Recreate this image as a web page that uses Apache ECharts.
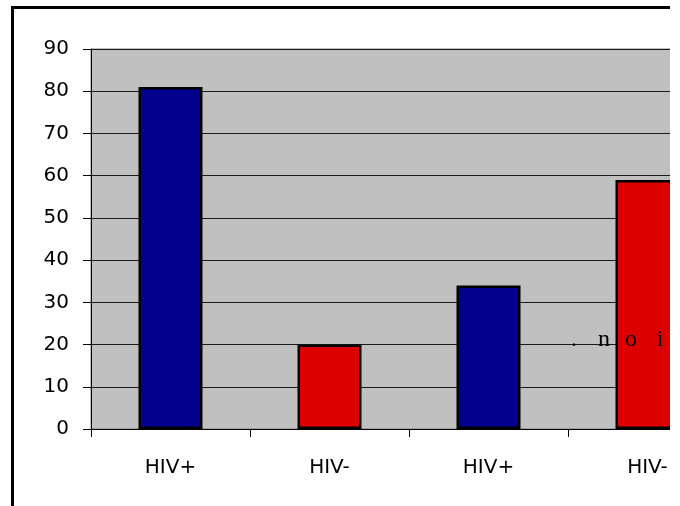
<!DOCTYPE html>
<html>
<head>
<meta charset="utf-8">
<script src="https://cdn.jsdelivr.net/npm/echarts@6/dist/echarts.min.js"></script>
<style>
html,body{margin:0;padding:0;background:#fff;}
#wrap{width:670px;height:506px;overflow:hidden;position:relative;}
#chart{width:740px;height:506px;}
</style>
</head>
<body>
<div id="wrap"><div id="chart"></div></div>
<script>
var categories = ['HIV+', 'HIV-', 'HIV+', 'HIV-'];
var values = [81, 20, 34, 59];
var barColors = ['#00008C', '#DD0000', '#00008C', '#DD0000'];
var yTicks = [0, 10, 20, 30, 40, 50, 60, 70, 80, 90];
var strayChars = ['.', 'n', 'o', 'i'];
var strayCharX = [574, 604, 631, 660];

var chart = echarts.init(document.getElementById('chart'));

var graphics = [{
  type: 'rect',
  shape: {x: 12.5, y: 7.5, width: 2000, height: 2000},
  style: {fill: 'none', stroke: '#000', lineWidth: 3},
  z: 100
}];
strayChars.forEach(function (c, i) {
  graphics.push({
    type: 'text',
    x: strayCharX[i],
    y: 352,
    style: {
      text: c,
      fill: '#000',
      font: '24px "Liberation Serif", "Times New Roman", serif',
      textAlign: 'center',
      textVerticalAlign: 'bottom'
    },
    z: 100
  });
});

chart.setOption({
  animation: false,
  grid: {
    left: 91, top: 49, right: 13, bottom: 77,
    show: true, backgroundColor: '#C0C0C0', borderColor: '#808080', borderWidth: 1
  },
  xAxis: {
    type: 'category',
    data: categories,
    axisLine: {lineStyle: {color: '#000', width: 1}},
    axisTick: {show: true, length: 8, alignWithLabel: false, lineStyle: {color: '#000'}},
    axisLabel: {
      margin: 29, color: '#000', fontSize: 20,
      fontFamily: '"DejaVu Sans", Verdana, sans-serif'
    }
  },
  yAxis: {
    type: 'value',
    min: yTicks[0], max: yTicks[yTicks.length - 1], interval: 10,
    axisLine: {show: true, lineStyle: {color: '#000', width: 1}},
    axisTick: {show: true, length: 8, lineStyle: {color: '#000'}},
    splitLine: {show: true, lineStyle: {color: '#1a1a1a', width: 1}},
    axisLabel: {
      margin: 22, color: '#000', fontSize: 20,
      fontFamily: '"DejaVu Sans", Verdana, sans-serif'
    }
  },
  series: [{
    type: 'bar',
    barWidth: 64,
    data: values.map(function (v, i) {
      return {value: v, itemStyle: {color: barColors[i]}};
    }),
    itemStyle: {borderColor: '#000', borderWidth: 2.5}
  }],
  graphic: graphics
});
</script>
</body>
</html>
